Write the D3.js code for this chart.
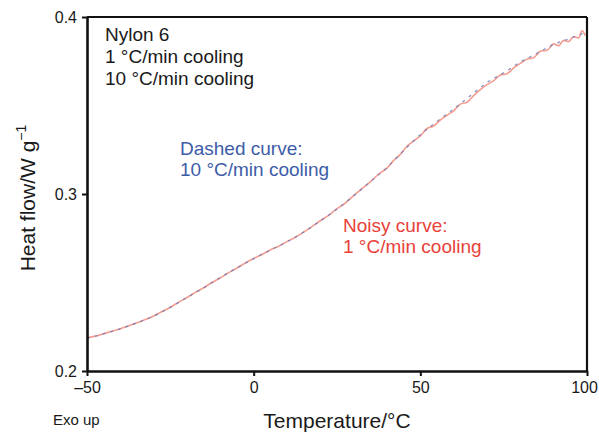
<!DOCTYPE html>
<html>
<head>
<meta charset="utf-8">
<script src="https://cdn.jsdelivr.net/npm/d3@7"></script>
<style>
  body { margin: 0; background: #fff; }
  text { font-family: "Liberation Sans", Arial, Helvetica, sans-serif; }
</style>
</head>
<body>
<div id="chart"></div>
<script>
// DSC cooling curves, Nylon 6
let width = 599;
let height = 433;
let plotLeft = 87, plotRight = 587, plotTop = 17, plotBottom = 371;

let xTicks = [-50, 0, 50, 100];
let yTicks = [0.2, 0.3, 0.4];

// 10 °C/min cooling (dashed)
let fastTemp = [-50, -45, -40, -35, -30, -25, -20, -15, -10, -5, 0, 5, 10, 15, 20, 25,
  30, 35, 40, 45, 50, 55, 60, 65, 70, 75, 80, 85, 90, 95, 100];
let fastFlow = [0.2185, 0.2210, 0.2238, 0.2272, 0.2310, 0.2360, 0.2415, 0.2470, 0.2528, 0.2583,
  0.2635, 0.2683, 0.2730, 0.2785, 0.2848, 0.2915, 0.2990, 0.3070, 0.3150, 0.3245,
  0.3335, 0.3410, 0.3480, 0.3555, 0.3630, 0.3685, 0.3745, 0.3795, 0.3845, 0.3880, 0.3915];

// 1 °C/min cooling (noisy)
let slowTemp = [-50, -47.5, -45, -42.5, -40, -37.5, -35, -32.5, -30, -27.5, -25, -22.5, -20,
  -17.5, -15, -12.5, -10, -7.5, -5, -2.5, 0, 2.5, 5, 7.5, 10, 12.5, 15, 17.5, 20, 22.5,
  25, 27.5, 30, 32.5, 35, 37.5, 40, 42, 44, 46, 48, 50, 52, 54, 56, 58, 60, 62, 64, 66,
  68, 70, 72, 74, 76, 78, 80, 82, 84, 86, 88, 90, 91.5, 93, 94.5, 96, 97.5, 98.5, 99.5];
let slowFlow = [0.2188, 0.2197, 0.2211, 0.2224, 0.2239, 0.2255, 0.2272, 0.2291, 0.2311, 0.2336,
  0.2360, 0.2389, 0.2415, 0.2444, 0.2470, 0.2500, 0.2527, 0.2556, 0.2582, 0.2610,
  0.2636, 0.2658, 0.2684, 0.2705, 0.2731, 0.2756, 0.2785, 0.2816, 0.2849, 0.2879,
  0.2917, 0.2949, 0.2991, 0.3030, 0.3068, 0.3113, 0.3146, 0.3190, 0.3224, 0.3270,
  0.3300, 0.3328, 0.3370, 0.3384, 0.3418, 0.3445, 0.3470, 0.3508, 0.3518, 0.3556,
  0.3590, 0.3618, 0.3640, 0.3672, 0.3680, 0.3712, 0.3738, 0.3762, 0.3770, 0.3806,
  0.3812, 0.3848, 0.3838, 0.3868, 0.3862, 0.3890, 0.3882, 0.3922, 0.3895];

let svg = d3.select("#chart").append("svg")
  .attr("width", width)
  .attr("height", height);

let x = d3.scaleLinear().domain([-50, 100]).range([plotLeft, plotRight]);
let y = d3.scaleLinear().domain([0.2, 0.4]).range([plotBottom, plotTop]);

let line = d3.line()
  .x(d => x(d[0]))
  .y(d => y(d[1]))
  .curve(d3.curveMonotoneX);

// noisy curve first, dashed over it
svg.append("path")
  .datum(slowTemp.map((t, i) => [t, slowFlow[i]]))
  .attr("d", line)
  .attr("fill", "none")
  .attr("stroke", "#f07c6c")
  .attr("stroke-opacity", 0.75)
  .attr("stroke-width", 1.6);

svg.append("path")
  .datum(fastTemp.map((t, i) => [t, fastFlow[i]]))
  .attr("d", line)
  .attr("fill", "none")
  .attr("stroke", "#6674b4")
  .attr("stroke-opacity", 0.8)
  .attr("stroke-width", 1.2)
  .attr("stroke-dasharray", "3,5");

// frame
svg.append("line")
  .attr("x1", x(-50)).attr("x2", x(100))
  .attr("y1", y(0.4)).attr("y2", y(0.4))
  .attr("stroke", "#111").attr("stroke-width", 2.2);
svg.append("line")
  .attr("x1", x(100)).attr("x2", x(100))
  .attr("y1", y(0.4)).attr("y2", y(0.2))
  .attr("stroke", "#111").attr("stroke-width", 2.2);

let xAxis = svg.append("g")
  .attr("transform", "translate(0," + plotBottom + ")")
  .call(d3.axisBottom(x).tickValues(xTicks).tickSize(5).tickSizeOuter(0).tickPadding(6)
    .tickFormat(d => d < 0 ? "\u2013" + Math.abs(d) : d));

let yAxis = svg.append("g")
  .attr("transform", "translate(" + plotLeft + ",0)")
  .call(d3.axisLeft(y).tickValues(yTicks).tickSize(5).tickSizeOuter(0).tickPadding(5)
    .tickFormat(d3.format(".1f")));

[xAxis, yAxis].forEach(g => {
  g.select(".domain").attr("stroke", "#111").attr("stroke-width", 2.6);
  g.selectAll(".tick line").attr("stroke", "#111").attr("stroke-width", 2);
  g.selectAll(".tick text").attr("fill", "#1a1a1a").style("font-size", "16px")
    .style("font-family", "'Liberation Sans', Arial, sans-serif");
});

// keep the last x label inside the picture
xAxis.selectAll(".tick text").filter(d => d === 100).attr("dx", -3);

// axis titles
svg.append("text")
  .attr("x", 337).attr("y", 428)
  .attr("text-anchor", "middle")
  .attr("fill", "#1a1a1a")
  .style("font-size", "21px")
  .text("Temperature/\u00b0C");

let yTitle = svg.append("text")
  .attr("transform", "translate(35,198)rotate(-90)")
  .attr("text-anchor", "middle")
  .attr("fill", "#1a1a1a")
  .style("font-size", "21px");
yTitle.append("tspan").text("Heat flow/W g");
yTitle.append("tspan").attr("dy", -9).style("font-size", "14px").text("\u22121");

svg.append("text")
  .attr("x", 53).attr("y", 425)
  .attr("fill", "#1a1a1a")
  .style("font-size", "15px")
  .text("Exo up");

// annotations
let legend = ["Nylon 6", "1 \u00b0C/min cooling", "10 \u00b0C/min cooling"];
legend.forEach((s, i) => {
  svg.append("text")
    .attr("x", 105).attr("y", 41 + i * 22)
    .attr("fill", "#1a1a1a")
    .style("font-size", "19px")
    .text(s);
});

["Dashed curve:", "10 \u00b0C/min cooling"].forEach((s, i) => {
  svg.append("text")
    .attr("x", 180).attr("y", 155 + i * 21)
    .attr("fill", "#3d5ca8")
    .style("font-size", "19px")
    .text(s);
});

["Noisy curve:", "1 \u00b0C/min cooling"].forEach((s, i) => {
  svg.append("text")
    .attr("x", 343).attr("y", 232 + i * 21)
    .attr("fill", "#e8413a")
    .style("font-size", "19px")
    .text(s);
});
</script>
</body>
</html>
